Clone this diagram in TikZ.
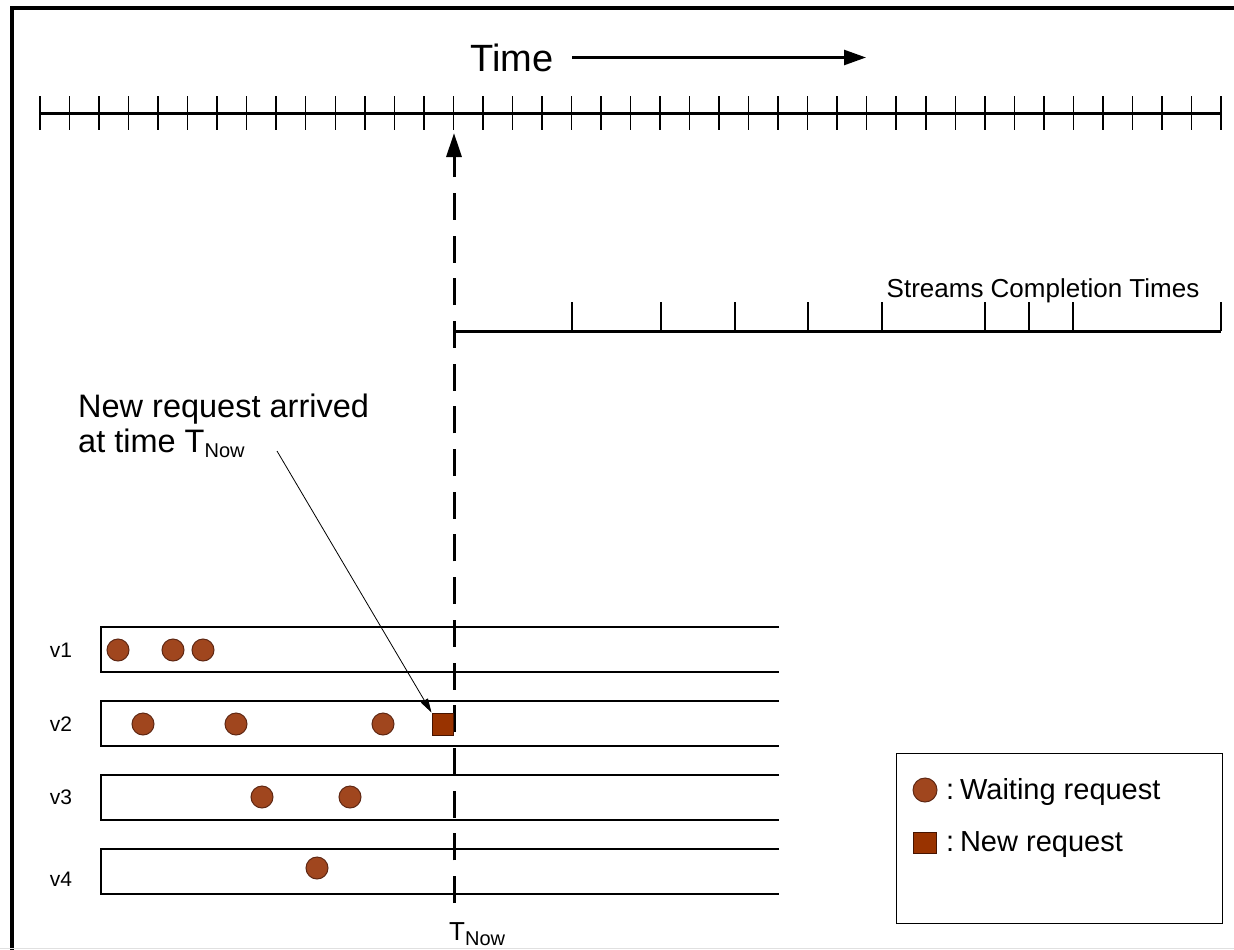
\documentclass[tikz,border=0pt]{standalone}
\usepackage{fontspec}
\setmainfont{Liberation Sans}
\usetikzlibrary{arrows.meta}
\definecolor{waitfill}{RGB}{160,70,30}
\definecolor{waitdraw}{RGB}{95,40,20}
\definecolor{newfill}{RGB}{153,51,0}
\definecolor{newdraw}{RGB}{70,20,0}
\begin{document}
\begin{tikzpicture}[x=1pt,y=-1pt,
  waiting/.style={circle, draw=waitdraw, fill=waitfill, line width=1pt, minimum size=22pt, inner sep=0pt},
  newreq/.style={rectangle, draw=newdraw, fill=newfill, line width=1pt, minimum width=21pt, minimum height=22pt, inner sep=0pt},
  lbl/.style={inner sep=0pt, text=black},
  axisline/.style={line width=3pt},
  tickline/.style={line width=1.5pt},
  queueline/.style={line width=2.8pt},
  nowline/.style={line width=3pt, dash pattern=on 27pt off 15.7pt},
]
\useasboundingbox (0,0) rectangle (1234,950);
% frame
\draw[line width=4pt] (12,950) -- (12,8) -- (1234,8);
\draw[black!12, line width=1pt] (0,948.5) -- (1234,948.5);

% time label and arrow
\node[lbl, anchor=base, font=\fontsize{38}{44}\selectfont] (time) at (512,71) {Time};
\coordinate (tarrowstart) at (572,57.5);
\coordinate (tarrowend) at (866,57.5);
\draw[line width=2.5pt, -{Triangle[length=22pt,width=15pt]}] (tarrowstart) -- (tarrowend);

% main timeline
\coordinate (tl0) at (40,113);
\coordinate (tl1) at (1221,113);
\draw[axisline] (tl0) -- (tl1);
\foreach \i in {0,...,40} \draw[tickline] ({40+\i*29.525},96) -- ({40+\i*29.525},130);

% streams completion axis
\coordinate (sc0) at (454,331);
\coordinate (sc1) at (1221,331);
\draw[axisline] (sc0) -- (sc1);
\foreach \x in {572,661,735,808,882,985,1029,1073,1221} \draw[tickline] (\x,302) -- (\x,331);
\node[lbl, anchor=base, font=\fontsize{26}{30}\selectfont] (streams) at (1043,297) {Streams Completion Times};

% queues
\foreach \t/\n/\ly in {627/1/650, 701/2/724, 775/3/797, 849/4/879} {
  \draw[queueline] (779,\t) -- (101,\t) -- (101,\t+45) -- (779,\t+45);
  \node[lbl, font=\fontsize{21}{24}\selectfont] (v\n) at (61,\ly) {v\n};
}

% now line
\coordinate (nowbot) at (454,903);
\coordinate (nowtop) at (454,133);
\draw[nowline, -{Triangle[length=24pt,width=15pt]}] (nowbot) -- (nowtop);

% waiting requests
\node[waiting] (w11) at (118,650) {};
\node[waiting] (w12) at (173,650) {};
\node[waiting] (w13) at (203,650) {};
\node[waiting] (w21) at (143,724) {};
\node[waiting] (w22) at (236,724) {};
\node[waiting] (w23) at (383,724) {};
\node[waiting] (w31) at (262,797) {};
\node[waiting] (w32) at (350,797) {};
\node[waiting] (w41) at (317,868) {};
\node[newreq] (nr) at (442.5,724) {};

% annotation
\node[lbl, anchor=base west, font=\fontsize{32.5}{37}\selectfont] (ann1) at (78,417) {New request arrived};
\node[lbl, anchor=base west, font=\fontsize{32.5}{37}\selectfont] (ann2) at (78,452) {at time T\raisebox{-5pt}{\fontsize{20}{24}\selectfont Now}};
\coordinate (annstart) at (277,451);
\draw[line width=0.8pt, -{Triangle[length=14pt,width=8pt]}] (annstart) -- (nr.north west);

% T now bottom label
\node[lbl, anchor=base west, font=\fontsize{26}{30}\selectfont] (tnow) at (449,940) {T\raisebox{-5pt}{\fontsize{20}{24}\selectfont Now}};

% legend
\node[draw, line width=1.2pt, minimum width=326pt, minimum height=170pt, anchor=north west, inner sep=0pt] (legend) at (896,753) {};
\node[waiting, minimum size=24pt] (lw) at (925,790) {};
\node[newreq, minimum width=23pt, minimum height=21pt] (ln) at (924.5,842.5) {};
\node[lbl, anchor=base west, font=\fontsize{29}{33}\selectfont] (lwt) at (946,799) {:\hspace{0.2em}Waiting request};
\node[lbl, anchor=base west, font=\fontsize{29}{33}\selectfont] (lnt) at (946,851) {:\hspace{0.2em}New request};
\end{tikzpicture}
\end{document}
